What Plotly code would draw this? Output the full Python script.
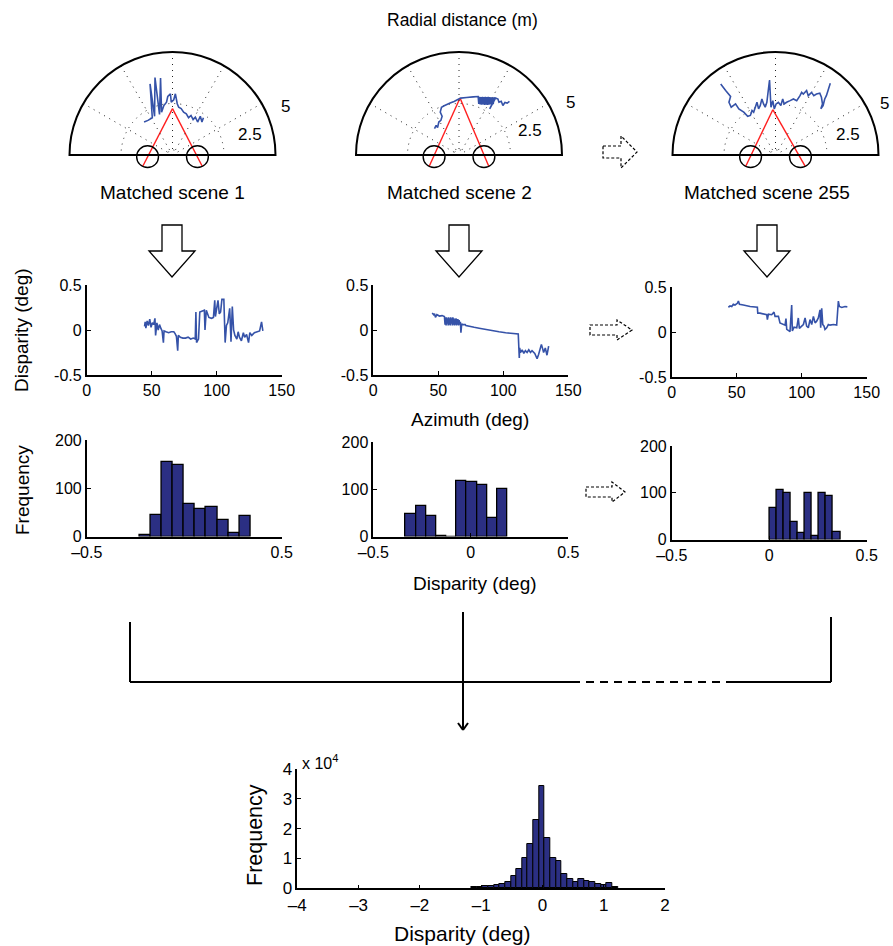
import numpy as np
import plotly.graph_objects as go

W, H = 893, 946
FONT = "Liberation Sans, Arial, Helvetica, sans-serif"
BLUE = "#3552a8"
NAVY = "#2b2f83"
RED = "#ff1f1f"

# ---------------- data ----------------
scene_titles = ["Matched scene 1", "Matched scene 2", "Matched scene 255"]
ring_labels = ["2.5", "5"]

# scene points: lateral (m) and depth (m) of each matched scene
scene1_lat = [-1.38, -1.19, -0.98, -1.09, -0.87, -0.85, -0.63, -0.58, -0.53, -0.42,
              -0.29, -0.23, -0.10, -0.06, 0.06, 0.14, 0.23, 0.30, 0.42, 0.54,
              0.67, 0.78, 0.90, 1.00, 1.11, 1.22, 1.35, 1.43, 1.50]
scene1_dep = [1.60, 1.68, 1.81, 3.45, 1.88, 3.76, 1.97, 3.74, 2.08, 2.40,
              2.56, 2.84, 2.97, 2.56, 2.68, 2.97, 2.49, 2.32, 2.25, 2.08,
              2.00, 1.81, 1.92, 1.72, 1.84, 1.60, 1.88, 1.60, 1.81]
scene2_lat = [-1.19, -1.11, -1.04, -0.98, -0.88, -0.82, -0.91, -0.85, -0.72, -0.59,
              -0.43, -0.24, -0.08, 0.08, 0.37, 0.69, 0.93, 0.96, 1.00, 1.03, 1.07,
              1.10, 1.14, 1.17, 1.21, 1.24, 1.28, 1.31, 1.35, 1.38, 1.42, 1.45, 1.49,
              1.52, 1.56, 1.59, 1.63, 1.66, 1.70, 1.73, 1.49, 1.78, 1.89, 1.94, 2.05,
              2.13, 2.23, 2.34, 2.45]
scene2_dep = [1.28, 1.44, 1.33, 1.60, 1.68, 1.88, 2.08, 2.32, 2.39, 2.45,
              2.52, 2.60, 2.68, 2.76, 2.79, 2.82, 2.84, 2.48, 2.82, 2.45, 2.81,
              2.44, 2.82, 2.45, 2.81, 2.43, 2.82, 2.44, 2.81, 2.43, 2.82, 2.44, 2.81,
              2.45, 2.80, 2.46, 2.80, 2.47, 2.80, 2.72, 2.24, 2.77, 2.72, 2.56, 2.61,
              2.40, 2.55, 2.52, 2.60]
scene3_lat = [-2.66, -2.42, -2.18, -2.26, -2.15, -1.94, -1.78, -1.54, -1.35, -1.22,
              -1.14, -1.06, -0.98, -0.90, -0.82, -0.74, -0.66, -0.58, -0.50, -0.42,
              -0.29, -0.22, -0.13, -0.06, 0.03, 0.14, 0.26, 0.35, 0.42, 0.54,
              0.71, 0.87, 1.03, 1.19, 1.27, 1.35, 1.51, 1.59, 1.75, 1.86,
              1.99, 2.15, 2.23, 2.28, 2.20, 2.31, 2.39, 2.47, 2.55, 2.66]
scene3_dep = [3.45, 3.13, 2.84, 2.56, 2.32, 2.48, 2.24, 2.08, 1.88, 1.92,
              2.16, 2.08, 2.32, 2.56, 2.24, 2.40, 2.72, 2.48, 2.32, 2.56,
              3.64, 2.32, 2.64, 2.24, 2.48, 2.56, 2.40, 2.72, 2.48, 2.56,
              2.64, 2.72, 2.64, 2.88, 3.04, 2.96, 3.13, 2.88, 3.04, 2.88,
              2.96, 3.00, 2.80, 2.48, 2.24, 2.40, 2.72, 2.88, 3.13, 3.48]
scenes_lat = [scene1_lat, scene2_lat, scene3_lat]
scenes_dep = [scene1_dep, scene2_dep, scene3_dep]

# fixation point of the two cameras (m) and camera positions
fix_lat = [0.00, 0.05, -0.13]
fix_dep = [2.25, 2.77, 2.20]
cam_lat = [-1.21, 1.21]
cam_dep = [-0.08, -0.08]
cam_radius = 0.53
ray_start_lat = [-1.45, 1.45]
ray_start_dep = [-0.56, -0.56]

# disparity vs azimuth
az1 = [44.5, 45.0, 45.5, 46.5, 47.5, 48.5, 49.5, 50.5, 51.5, 52.5, 53.0, 54.0, 55.0, 56.0, 57.0,
       58.0, 59.0, 59.5, 61.0, 63.0, 65.0, 67.0, 68.0, 69.0, 70.0, 70.5, 72.0, 74.0, 76.0, 78.0,
       80.0, 82.0, 83.5, 84.0, 84.5, 86.0, 87.0, 89.0, 90.5, 91.0, 92.0, 94.0, 96.0, 97.5, 98.5,
       99.0, 101.0, 102.0, 103.0, 104.0, 105.5, 106.5, 107.5, 108.5, 110.0, 111.0, 112.0, 113.0,
       114.0, 115.5, 116.5, 117.5, 119.0, 120.5, 121.5, 123.0, 124.5, 125.5, 127.0, 129.0, 131.0,
       133.0, 134.5, 135.5]
disp1 = [0.04, 0.09, 0.02, 0.10, 0.05, 0.12, 0.03, 0.08, 0.06, 0.13, -0.06, 0.08, 0.00, 0.06, 0.02,
         -0.01, -0.14, -0.01, -0.02, -0.03, -0.02, -0.02, -0.04, -0.07, -0.23, -0.06, -0.08, -0.09,
         -0.09, -0.08, -0.10, -0.09, -0.10, 0.20, -0.14, -0.10, 0.20, 0.21, 0.22, 0.00, 0.22, 0.14,
         0.13, 0.14, 0.33, 0.15, 0.33, 0.18, 0.20, 0.34, 0.34, -0.14, 0.05, 0.08, 0.24, -0.13, 0.26,
         0.00, -0.06, -0.10, -0.02, -0.08, -0.12, -0.03, -0.08, -0.05, -0.14, -0.03, -0.06, -0.03,
         -0.02, -0.01, 0.09, -0.01]
az2 = [45.3, 46.5, 47.1, 47.8, 48.9, 50.9, 52.9, 54.7, 55.2, 55.6, 56.0, 56.4, 56.8, 57.2, 57.6,
       58.0, 58.4, 58.8, 59.2, 59.6, 60.0, 60.4, 60.8, 61.2, 61.6, 62.0, 62.4, 62.8, 63.2, 63.6,
       64.0, 64.4, 64.8, 65.2, 65.6, 66.0, 66.4, 67.0, 67.4, 68.0, 68.7, 70.7, 71.2, 73.8, 77.6,
       81.4, 86.5, 91.6, 96.7, 101.8, 106.9, 110.7, 111.5, 112.3, 112.6, 113.2, 114.5, 115.8,
       117.0, 118.3, 119.6, 120.9, 122.1, 124.2, 126.0, 127.2, 128.5, 129.3, 130.3, 131.0, 132.3,
       133.6, 134.9]
disp2 = [0.19, 0.17, 0.18, 0.14, 0.17, 0.155, 0.16, 0.15, 0.06, 0.14, 0.05, 0.14, 0.07, 0.13, 0.05,
         0.14, 0.06, 0.13, 0.05, 0.14, 0.07, 0.13, 0.05, 0.14, 0.06, 0.13, 0.05, 0.12, 0.06, 0.13,
         0.05, 0.12, 0.06, 0.12, 0.05, 0.11, 0.06, 0.09, -0.03, 0.07, 0.06, 0.06, 0.05, 0.045, 0.03,
         0.02, 0.005, -0.01, -0.02, -0.03, -0.04, -0.045, -0.045, -0.31, -0.20, -0.25, -0.22, -0.26,
         -0.23, -0.25, -0.22, -0.25, -0.23, -0.26, -0.32, -0.27, -0.19, -0.16, -0.21, -0.25, -0.20,
         -0.28, -0.18]
az3 = [43.6, 44.9, 46.2, 47.4, 48.7, 50.5, 51.3, 52.1, 55.1, 60.3, 65.9, 66.2, 67.9, 70.5, 73.1,
       73.6, 74.4, 76.9, 78.7, 79.5, 82.1, 83.3, 84.6, 87.2, 87.9, 88.5, 90.5, 91.0, 92.3, 92.8,
       94.1, 96.2, 97.4, 98.2, 100.0, 101.3, 102.6, 103.8, 105.1, 106.4, 107.7, 109.0, 110.3, 111.5,
       112.8, 114.1, 114.6, 115.4, 116.2, 117.2, 117.9, 119.2, 120.5, 121.8, 124.4, 126.9, 128.2,
       129.0, 130.8, 133.3, 135.1]
disp3 = [0.275, 0.29, 0.283, 0.308, 0.30, 0.319, 0.344, 0.308, 0.301, 0.283, 0.275, 0.21, 0.21,
         0.199, 0.192, 0.138, 0.199, 0.192, 0.221, 0.174, 0.174, 0.101, 0.091, 0.076, 0.149, 0.029,
         0.011, 0.004, 0.30, 0.011, 0.054, 0.047, 0.156, 0.04, 0.065, 0.083, 0.156, 0.065, 0.047,
         0.138, 0.083, 0.174, 0.101, 0.12, 0.156, 0.246, 0.047, 0.264, 0.083, 0.065, 0.029, 0.047,
         0.083, 0.076, 0.083, 0.076, 0.344, 0.283, 0.272, 0.283, 0.279]
az_list = [az1, az2, az3]
disp_list = [disp1, disp2, disp3]

# per-scene disparity histograms (bin centres, counts)
h1_centers = [-0.201, -0.144, -0.087, -0.030, 0.027, 0.084, 0.141, 0.198, 0.255, 0.313]
h1_counts = [4, 45, 154, 148, 67, 56, 61, 34, 8, 43]
h2_centers = [-0.308, -0.256, -0.204, -0.151, -0.099, -0.047, 0.005, 0.057, 0.109, 0.161]
h2_counts = [47, 65, 43, 2, 0, 118, 115, 108, 39, 101]
h3_centers = [0.019, 0.055, 0.091, 0.128, 0.164, 0.200, 0.237, 0.273, 0.309, 0.346]
h3_counts = [67, 105, 99, 38, 14, 99, 7, 99, 92, 16]
h_centers = [h1_centers, h2_centers, h3_centers]
h_counts = [h1_counts, h2_counts, h3_counts]
h_widths = [0.0571, 0.0521, 0.0363]
h_xticks = [[-0.5, 0.5], [-0.5, 0, 0.5], [-0.5, 0, 0.5]]
h_xtext = [["\u20130.5", "0.5"], ["\u20130.5", "0", "0.5"], ["\u20130.5", "0", "0.5"]]

# pooled histogram over all matched scenes
all_centers = [-1.114, -1.022, -0.930, -0.838, -0.746, -0.654, -0.562, -0.470, -0.378, -0.286,
               -0.194, -0.102, -0.010, 0.082, 0.174, 0.266, 0.358, 0.450, 0.542, 0.634,
               0.726, 0.818, 0.910, 1.002, 1.094, 1.186]
all_counts = [300, 600, 700, 800, 1100, 1400, 2200, 4100, 6400, 10300,
              15000, 23000, 34200, 16700, 10300, 9100, 4800, 3000, 2200, 3100,
              2600, 2200, 1400, 1000, 1700, 300]
all_width = 0.092

# ---------------- layout helpers (pixel -> paper) ----------------
def fx(px):
    return px / W


def fy(py):
    return 1 - py / H


fig = go.Figure()
layout = dict(template="none", width=W, height=H, margin=dict(l=0, r=0, t=0, b=0, pad=0),
              paper_bgcolor="white", plot_bgcolor="white", showlegend=False,
              font=dict(family=FONT, color="black"))
annotations = []
shapes = []

def txt(x, y, s, size, angle=0, xanchor="center", yanchor="middle"):
    annotations.append(dict(x=fx(x), y=fy(y), xref="paper", yref="paper", text=s,
                            showarrow=False, textangle=angle, xanchor=xanchor,
                            yanchor=yanchor, font=dict(size=size, family=FONT, color="black")))

# ---------------- polar panels ----------------
pcx = [172.5, 459.0, 775.5]
pbase = 155.0
R = 103.0
scale = R / 5.0  # px per metre
ring_pos = [[(250, 135), (285, 106)], [(530, 130), (570, 102)], [(848, 134), (884, 103)]]

for i in range(3):
    pk = "polar" if i == 0 else f"polar{i + 1}"
    layout[pk] = dict(
        domain=dict(x=[fx(pcx[i] - R), fx(pcx[i] + R)], y=[fy(pbase), fy(pbase - R)]),
        sector=[0, 180], bgcolor="rgba(0,0,0,0)",
        radialaxis=dict(range=[0, 5], showline=False, showticklabels=False, ticks="",
                        tickvals=[0.25, 2.5], showgrid=True, gridcolor="#222",
                        griddash="1px,5px", gridwidth=1.2),
        angularaxis=dict(dtick=30, showline=True, linecolor="black", linewidth=2,
                         showticklabels=False, ticks="", showgrid=True, gridcolor="#222",
                         griddash="1px,5px", gridwidth=1.2))
    lat = np.array(scenes_lat[i])
    dep = np.array(scenes_dep[i])
    fig.add_trace(go.Scatterpolar(r=np.hypot(lat, dep), theta=np.degrees(np.arctan2(dep, lat)),
                                  mode="lines", line=dict(color=BLUE, width=1.6), subplot=pk))
    # overlay cartesian frame (metres) for cameras and rays
    ax = 8 + i
    bottom_px = pbase + 20
    layout[f"xaxis{ax}"] = dict(domain=[fx(pcx[i] - R), fx(pcx[i] + R)],
                                range=[-R / scale, R / scale], visible=False,
                                anchor=f"y{ax}", fixedrange=True, automargin=False)
    layout[f"yaxis{ax}"] = dict(domain=[fy(bottom_px), fy(pbase - R)],
                                range=[-(bottom_px - pbase) / scale, 5], visible=False,
                                anchor=f"x{ax}", fixedrange=True, automargin=False)
    for k in range(2):
        fig.add_trace(go.Scatter(x=[ray_start_lat[k], fix_lat[i]], y=[ray_start_dep[k], fix_dep[i]],
                                 mode="lines", line=dict(color=RED, width=1.4),
                                 xaxis=f"x{ax}", yaxis=f"y{ax}"))
        shapes.append(dict(type="circle", xref=f"x{ax}", yref=f"y{ax}",
                           x0=cam_lat[k] - cam_radius, x1=cam_lat[k] + cam_radius,
                           y0=cam_dep[k] - cam_radius, y1=cam_dep[k] + cam_radius,
                           line=dict(color="black", width=1.4), layer="above"))
    for lab, (tx, ty) in zip(ring_labels, ring_pos[i]):
        txt(tx, ty, lab, 17)
    txt([172, 459, 767][i], 193, scene_titles[i], 19)

txt(462, 20, "Radial distance (m)", 17.5)

# ---------------- common axis style ----------------
def axis(dom, rng, tv, tt, anchor):
    return dict(domain=dom, range=rng, showline=True, linecolor="black", linewidth=1.6,
                ticks="inside", ticklen=4, tickwidth=1.2, tickcolor="black",
                tickvals=tv, ticktext=tt, showgrid=False, zeroline=False,
                tickfont=dict(size=16, family=FONT, color="black"), anchor=anchor,
                fixedrange=True, automargin=False)

# ---------------- disparity vs azimuth ----------------
d_x = [(86.7, 281.7), (373.3, 568.3), (671.7, 866.7)]
d_y = [(285, 375), (285, 375), (287, 377)]
for i in range(3):
    n = i + 1
    layout[f"xaxis{n}"] = axis([fx(d_x[i][0]), fx(d_x[i][1])], [0, 150], [0, 50, 100, 150],
                               ["0", "50", "100", "150"], f"y{n}")
    layout[f"yaxis{n}"] = axis([fy(d_y[i][1]), fy(d_y[i][0])], [-0.5, 0.5], [-0.5, 0, 0.5],
                               ["-0.5", "0", "0.5"], f"x{n}")
    fig.add_trace(go.Scatter(x=az_list[i], y=disp_list[i], mode="lines",
                             line=dict(color=BLUE, width=1.6), xaxis=f"x{n}", yaxis=f"y{n}"))

txt(22, 330, "Disparity (deg)", 19, angle=-90)
txt(470, 420, "Azimuth (deg)", 19)

# ---------------- per-scene histograms ----------------
h_y = [(440, 536.5), (442, 536.5), (446, 539.5)]
for i in range(3):
    n = i + 4
    layout[f"xaxis{n}"] = axis([fx(d_x[i][0]), fx(d_x[i][1])], [-0.5, 0.5], h_xticks[i],
                               h_xtext[i], f"y{n}")
    layout[f"yaxis{n}"] = axis([fy(h_y[i][1]), fy(h_y[i][0])], [0, 200], [0, 100, 200],
                               ["0", "100", "200"], f"x{n}")
    fig.add_trace(go.Bar(x=h_centers[i], y=h_counts[i], width=h_widths[i],
                         marker=dict(color=NAVY, line=dict(color="black", width=1.3)),
                         xaxis=f"x{n}", yaxis=f"y{n}"))

txt(22, 490, "Frequency", 19, angle=-90)
txt(475, 583, "Disparity (deg)", 19)

# ---------------- pooled histogram ----------------
layout["xaxis7"] = axis([fx(297.3), fx(665)], [-4, 2], [-4, -3, -2, -1, 0, 1, 2],
                        ["\u20134", "\u20133", "\u20132", "\u20131", "0", "1", "2"], "y7")
layout["yaxis7"] = axis([fy(888.3), fy(769)], [0, 40000], [0, 10000, 20000, 30000, 40000],
                        ["0", "1", "2", "3", "4"], "x7")
layout["xaxis7"]["tickfont"]["size"] = 17
layout["yaxis7"]["tickfont"]["size"] = 17
fig.add_trace(go.Bar(x=all_centers, y=all_counts, width=all_width,
                     marker=dict(color=NAVY, line=dict(color="black", width=1)),
                     xaxis="x7", yaxis="y7"))
txt(300, 762, "x 10<sup>4</sup>", 16, xanchor="left")
txt(255, 835, "Frequency", 21.5, angle=-90)
txt(462, 933, "Disparity (deg)", 21)

# ---------------- diagram arrows and connectors ----------------
def path(points):
    s = "M " + " L ".join(f"{fx(x):.5f},{fy(y):.5f}" for x, y in points) + " Z"
    return s

for cx in [172, 459, 767]:
    pts = [(cx - 10, 225), (cx + 10, 225), (cx + 10, 251), (cx + 23, 251), (cx, 277),
           (cx - 23, 251), (cx - 10, 251)]
    shapes.append(dict(type="path", path=path(pts), xref="paper", yref="paper",
                       line=dict(color="black", width=1.3), fillcolor="white"))

def right_arrow(x0, xb, xt, cy, sh, hh):
    pts = [(x0, cy - sh), (xb, cy - sh), (xb, cy - hh), (xt, cy), (xb, cy + hh),
           (xb, cy + sh), (x0, cy + sh)]
    shapes.append(dict(type="path", path=path(pts), xref="paper", yref="paper",
                       line=dict(color="black", width=1.2, dash="3px,2px")))

right_arrow(603, 621, 637, 152, 6, 16)
right_arrow(590, 617, 632, 330, 5, 10)
right_arrow(586, 612, 625, 492, 5, 10)

def seg(x0, y0, x1, y1, dash="solid"):
    shapes.append(dict(type="line", x0=fx(x0), y0=fy(y0), x1=fx(x1), y1=fy(y1),
                       xref="paper", yref="paper", line=dict(color="black", width=2, dash=dash)))

seg(130, 622, 130, 682)
seg(130, 682, 572, 682)
seg(572, 682, 730, 682, dash="8px,6px")
seg(730, 682, 831, 682)
seg(831, 617, 831, 682)
seg(463, 612, 463, 730)
seg(458, 723, 463, 730)
seg(468, 723, 463, 730)

layout["annotations"] = annotations
layout["shapes"] = shapes
layout["bargap"] = 0
fig.update_layout(**layout)
fig.write_html("out.html", config={"displayModeBar": False},
               post_script="document.body.style.margin='0px';")
